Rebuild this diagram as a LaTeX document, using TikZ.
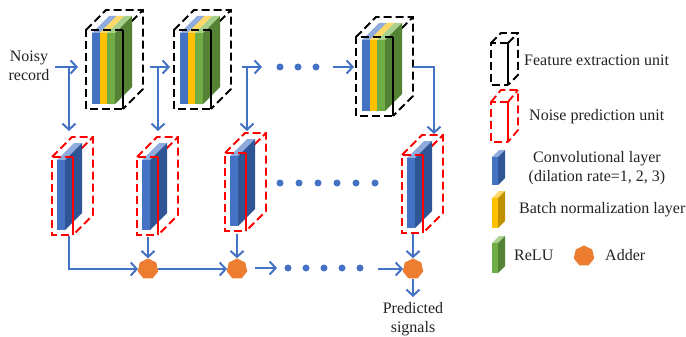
\documentclass[tikz,border=0pt]{standalone}
\usepackage{fontspec}
\setmainfont{Liberation Serif}
\usetikzlibrary{arrows.meta,shapes.geometric}
\definecolor{cblue}{HTML}{4472C4}
\definecolor{cbluedk}{HTML}{2F5597}
\definecolor{cbluelt}{HTML}{8FAADC}
\definecolor{cyel}{HTML}{FFC000}
\definecolor{cyeldk}{HTML}{BF9000}
\definecolor{cyellt}{HTML}{FFD966}
\definecolor{cgrn}{HTML}{70AD47}
\definecolor{cgrndk}{HTML}{548235}
\definecolor{cgrnlt}{HTML}{A9D18E}
\definecolor{corange}{HTML}{ED7D31}
\definecolor{ctext}{HTML}{222222}
\tikzset{
  fdash/.style={draw=black, line width=1.8pt, dash pattern=on 8pt off 4pt},
  fsolid/.style={draw=black, line width=1.8pt},
  rdash/.style={draw=red, line width=1.8pt, dash pattern=on 8pt off 4pt},
  rsolid/.style={draw=red, line width=1.8pt},
  arr/.style={draw=cblue, line width=2pt, -{Straight Barb[length=6pt,width=13pt,line width=2pt]}},
  conn/.style={draw=cblue, line width=2pt},
  dotb/.style={circle, fill=cblue, inner sep=0pt, minimum size=7pt},
  adder/.style={regular polygon, regular polygon sides=7, fill=corange, inner sep=0pt, minimum size=21pt},
  txt/.style={font=\fontsize{16}{19}\selectfont, text=ctext, inner sep=0pt, align=center},
  featunit/.pic={
    \draw[fdash] (37,0) -- (57,-20);
    \draw[fdash] (0,0) -- (20,-20) -- (57,-20) -- (57,59) -- (37,79);
    \fill[cbluelt] (6,3) -- (13.7,3) -- (30.7,-14) -- (23,-14) -- cycle;
    \fill[cyellt] (13.7,3) -- (21.3,3) -- (38.3,-14) -- (30.7,-14) -- cycle;
    \fill[cgrnlt] (21.3,3) -- (29,3) -- (46,-14) -- (38.3,-14) -- cycle;
    \fill[cgrndk] (29,3) -- (46,-14) -- (46,57) -- (29,74) -- cycle;
    \fill[cblue] (6,3) rectangle (13.7,74);
    \fill[cyel] (13.7,3) rectangle (21.3,74);
    \fill[cgrn] (21.3,3) rectangle (29,74);
    \draw[fdash] (37,0) -- (0,0) -- (0,79) -- (37,79);
    \draw[fsolid] (37,0) -- (37,79);
  },
  noiseunit/.pic={
    \draw[rdash] (21,0) -- (41,-20);
    \draw[rdash] (0,0) -- (20,-20) -- (41,-20) -- (41,58) -- (21,78);
    \fill[cbluelt] (5,3) -- (13,3) -- (30,-14) -- (22,-14) -- cycle;
    \fill[cbluedk] (13,3) -- (30,-14) -- (30,56) -- (13,73) -- cycle;
    \fill[cblue] (5,3) rectangle (13,73);
    \draw[rdash] (21,0) -- (0,0) -- (0,78) -- (21,78);
    \draw[rsolid] (21,0) -- (21,78);
  },
}
\begin{document}
\begin{tikzpicture}[x=1pt,y=-1pt]
\useasboundingbox (0,0) rectangle (686,337);

% feature extraction units
\pic at (86,30) {featunit};
\pic at (174,30) {featunit};
\pic at (356,37) {featunit};

% noise prediction units
\pic at (52,157) {noiseunit};
\pic at (137,157) {noiseunit};
\pic at (225,153) {noiseunit};
\pic at (402,155) {noiseunit};

% input text
\node[txt] (noisy) at (29,66) {Noisy\\record};

% top row coordinates
\coordinate (t0s) at (55,67);  \coordinate (t0e) at (78,67);
\coordinate (t0b) at (69,67);  \coordinate (n1in) at (69,131);
\coordinate (t1s) at (150,67); \coordinate (t1e) at (170,67);
\coordinate (t1b) at (158,67); \coordinate (n2in) at (158,131);
\coordinate (t2s) at (242,67); \coordinate (t2e) at (262,67);
\coordinate (t2b) at (247,67); \coordinate (n3in) at (247,131);
\coordinate (t3s) at (333,67); \coordinate (t3e) at (354,67);
\coordinate (t4s) at (413,67); \coordinate (t4c) at (434,67);
\coordinate (n4in) at (434,134);

\draw[arr] (t0s) -- (t0e);
\draw[arr] (t0b) -- (n1in);
\draw[arr] (t1s) -- (t1e);
\draw[arr] (t1b) -- (n2in);
\draw[arr] (t2s) -- (t2e);
\draw[arr] (t2b) -- (n3in);
\draw[arr] (t3s) -- (t3e);
\draw[arr] (t4s) -- (t4c) -- (n4in);

\foreach \x [count=\i] in {280,298,316} \node[dotb] (td\i) at (\x,67) {};
\foreach \x [count=\i] in {280,299,318,337,356,375} \node[dotb] (md\i) at (\x,183) {};
\foreach \x [count=\i] in {288,306,324,342,360} \node[dotb] (bd\i) at (\x,268) {};

% adders
\node[adder] (a1) at (148,269) {};
\node[adder] (a2) at (237,269) {};
\node[adder] (a4) at (413,269) {};

\coordinate (n1out) at (69,236);
\coordinate (n1c) at (69,269);
\coordinate (n2out) at (148,237);
\coordinate (n3out) at (237,234);
\coordinate (n4out) at (413,234);
\coordinate (b2s) at (255,268);
\coordinate (b2e) at (277,268);
\coordinate (b3s) at (378,269);
\coordinate (pout) at (413,297);

\draw[arr] (n1out) -- (n1c) -- (a1.west);
\draw[arr] (n2out) -- (a1.north);
\draw[arr] (a1.east) -- (a2.west);
\draw[arr] (n3out) -- (a2.north);
\draw[arr] (b2s) -- (b2e);
\draw[arr] (b3s) -- (a4.west);
\draw[arr] (n4out) -- (a4.north);
\draw[arr] (a4.south) -- (pout);

\node[txt] (pred) at (413,319) {Predicted\\signals};

% legend
\draw[fdash] (508,43) -- (518,33);
\draw[fdash] (491,43) -- (501,33) -- (518,33) -- (518,75) -- (508,85);
\draw[fdash] (508,43) -- (491,43) -- (491,85) -- (508,85);
\draw[fsolid] (508,43) -- (508,85);
\node[txt, anchor=west] (lfeat) at (524,60) {Feature extraction unit};

\draw[rdash] (508,102) -- (518,90);
\draw[rdash] (491,102) -- (501,90) -- (518,90) -- (518,130) -- (508,142);
\draw[rdash] (508,102) -- (491,102) -- (491,142) -- (508,142);
\draw[rsolid] (508,102) -- (508,142);
\node[txt, anchor=west] (lnoise) at (529,117) {Noise prediction unit};

% legend slabs
\fill[cbluelt] (492,157) -- (498,157) -- (505,150) -- (499,150) -- cycle;
\fill[cbluedk] (498,157) -- (505,150) -- (505,178) -- (498,185) -- cycle;
\fill[cblue] (492,157) rectangle (498,185);
\node[txt] (lconv) at (597,168) {Convolutional layer\\(dilation rate=1, 2, 3)};

\fill[cyellt] (492,198) -- (498,198) -- (505,191) -- (499,191) -- cycle;
\fill[cyeldk] (498,198) -- (505,191) -- (505,221) -- (498,228) -- cycle;
\fill[cyel] (492,198) rectangle (498,228);
\node[txt, anchor=west] (lbn) at (519,210) {Batch normalization layer};

\fill[cgrnlt] (492,243) -- (498,243) -- (505,236) -- (499,236) -- cycle;
\fill[cgrndk] (498,243) -- (505,236) -- (505,266) -- (498,273) -- cycle;
\fill[cgrn] (492,243) rectangle (498,273);
\node[txt, anchor=west] (lrelu) at (514,255) {ReLU};

\node[adder] (ladd) at (584,256) {};
\node[txt, anchor=west] (ladder) at (605,255) {Adder};
\end{tikzpicture}
\end{document}
